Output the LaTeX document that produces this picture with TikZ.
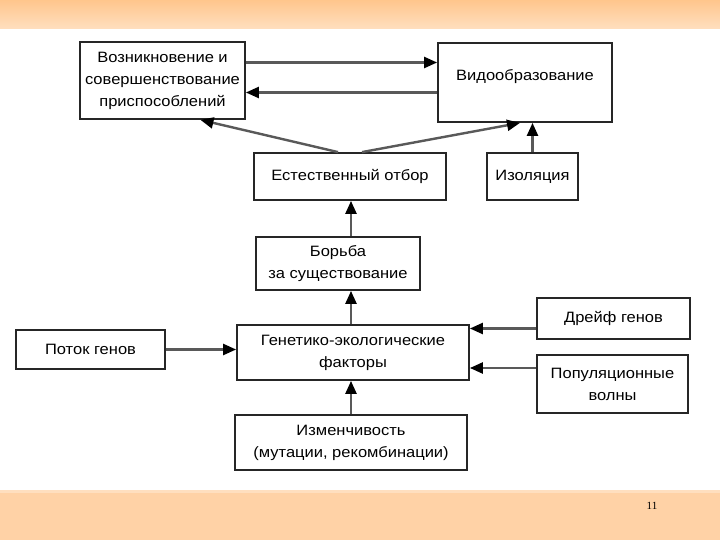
\documentclass[tikz,border=0pt]{standalone}
\usepackage{fontspec}
\setmainfont[FakeStretch=1.1]{Liberation Sans}
\newfontfamily\pagefont{Liberation Serif}
\usetikzlibrary{arrows.meta}
\begin{document}
\begin{tikzpicture}[x=1pt,y=-1pt]
    % Define styles
    \tikzset{
        box/.style={draw=black!85, line width=1.8pt, fill=white, align=center,
            inner sep=2pt, font=\fontsize{15}{22}\selectfont},
        arr/.style={draw=black!65, line width=2.4pt,
            -{Triangle[length=13pt,width=11pt,color=black]}},
        band/.style={fill=orange!35!white, draw=none}
    }

    % Page background and bands
    \useasboundingbox (0,0) rectangle (720,540);
    \fill[white] (0,0) rectangle (720,540);
    \shade[top color=orange!45!white, bottom color=orange!25!white, draw=none] (0,0) rectangle (720,29);
    \fill[band] (0,490) rectangle (720,540);
    \fill[orange!25!white] (0,490) rectangle (720,493);
    \node[font=\pagefont\fontsize{11}{13}\selectfont] (page) at (652,506) {11};

    % Draw boxes
    \node[box, minimum width=165pt, minimum height=77pt] (adapt) at (162.5,80.5)
        {Возникновение и\\совершенствование\\приспособлений};
    \node[box, minimum width=174pt, minimum height=79pt] (spec) at (525,82.5)
        {Видообразование\\[-7pt]};
    \node[box, minimum width=192pt, minimum height=47pt] (select) at (350,176.5)
        {Естественный отбор};
    \node[box, minimum width=91pt, minimum height=47pt] (isol) at (532.5,176.5)
        {Изоляция};
    \node[box, minimum width=164pt, minimum height=53pt] (struggle) at (338,263.5)
        {Борьба\\за существование};
    \node[box, minimum width=149pt, minimum height=39pt] (flow) at (90.5,349.5)
        {Поток генов};
    \node[box, minimum width=232pt, minimum height=55pt] (factors) at (353,352.5)
        {Генетико-экологические\\факторы};
    \node[box, minimum width=153pt, minimum height=41pt] (drift) at (613.5,318.5)
        {Дрейф генов};
    \node[box, minimum width=151pt, minimum height=58pt] (waves) at (612.5,384)
        {Популяционные\\волны};
    \node[box, minimum width=232pt, minimum height=55pt] (var) at (351,442.5)
        {Изменчивость\\(мутации, рекомбинации)};

    % Arrows between the top boxes
    \coordinate (a1) at ([yshift=18pt]adapt.east);
    \coordinate (a2) at ([yshift=-12pt]adapt.east);
    \draw[arr] (a1) -- (a1 -| spec.west);
    \draw[arr] (a2 -| spec.west) -- (a2);

    % Arrows from selection and isolation
    \draw[arr] ([xshift=-12pt]select.north) -- ([xshift=38pt]adapt.south);
    \draw[arr] ([xshift=12pt]select.north) -- ([xshift=-5pt]spec.south);
    \draw[arr] (isol.north) -- (isol.north |- spec.south);

    % Vertical chain
    \coordinate (c1) at (351,0);
    \draw[arr] (c1 |- struggle.north) -- (c1 |- select.south);
    \draw[arr] (c1 |- factors.north) -- (c1 |- struggle.south);
    \draw[arr] (c1 |- var.north) -- (c1 |- factors.south);

    % Side factors
    \draw[arr] (flow.east) -- (flow.east -| factors.west);
    \coordinate (d1) at ([yshift=-10pt]drift.west);
    \coordinate (w1) at ([yshift=16pt]waves.west);
    \draw[arr] (d1) -- (d1 -| factors.east);
    \draw[arr] (w1) -- (w1 -| factors.east);
\end{tikzpicture}
\end{document}
